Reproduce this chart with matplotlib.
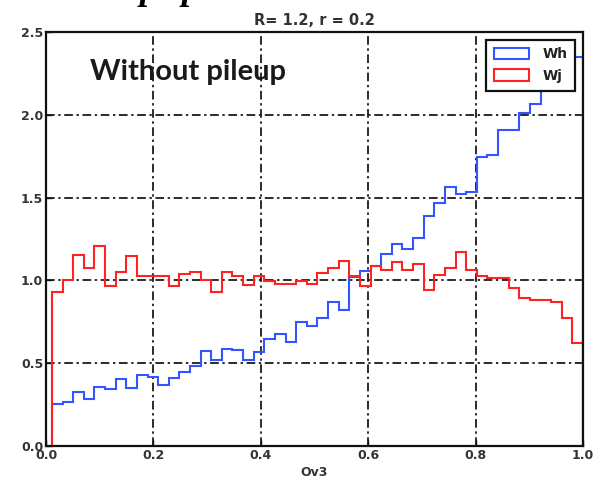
import numpy as np
import matplotlib
matplotlib.use("Agg")
import matplotlib.pyplot as plt

# Histogram binning: 50 bins across the Ov3 range
bin_edges = np.linspace(0.011, 1.0, 51)

# Normalised bin contents
wh_values = [0.254, 0.264, 0.325, 0.286, 0.357, 0.347, 0.407, 0.351, 0.431, 0.417,
             0.371, 0.409, 0.447, 0.481, 0.576, 0.518, 0.588, 0.578, 0.518, 0.566,
             0.648, 0.677, 0.626, 0.747, 0.727, 0.773, 0.867, 0.819, 1.020, 1.058,
             1.089, 1.159, 1.220, 1.191, 1.257, 1.388, 1.470, 1.567, 1.521, 1.533,
             1.748, 1.758, 1.909, 1.909, 2.013, 2.064, 2.180, 2.250, 2.310, 2.350]
wj_values = [0.930, 1.000, 1.155, 1.075, 1.205, 0.964, 1.048, 1.145, 1.024, 1.024,
             1.024, 0.964, 1.040, 1.050, 1.000, 0.928, 1.050, 1.024, 0.974, 1.024,
             0.994, 0.978, 0.978, 0.994, 0.978, 1.045, 1.075, 1.119, 1.024, 0.964,
             1.085, 1.065, 1.109, 1.065, 1.097, 0.940, 1.035, 1.075, 1.171, 1.065,
             1.024, 1.012, 1.012, 0.954, 0.894, 0.882, 0.882, 0.868, 0.771, 0.622]

series_labels = ["Wh", "Wj"]
x_ticks = [0.0, 0.2, 0.4, 0.6, 0.8, 1.0]
y_ticks = [0.0, 0.5, 1.0, 1.5, 2.0, 2.5]

fig = plt.figure(figsize=(5.95, 4.84), dpi=100)
ax = fig.add_axes([46 / 595, 1 - 446 / 484, (583 - 46) / 595, (446 - 32) / 484])

centers = 0.5 * (bin_edges[:-1] + bin_edges[1:])
ax.hist(centers, bins=bin_edges, weights=wh_values, histtype="step",
        color="#3355ff", linewidth=1.5, label=series_labels[0])
ax.hist(centers, bins=bin_edges, weights=wj_values, histtype="step",
        color="#ff2222", linewidth=1.5, label=series_labels[1])

ax.set_xlim(0.0, 1.0)
ax.set_ylim(0.0, 2.5)
ax.set_xticks(x_ticks)
ax.set_yticks(y_ticks)
ax.set_xticklabels([f"{t:.1f}" for t in x_ticks])
ax.set_yticklabels([f"{t:.1f}" for t in y_ticks])

grid_style = (0, (4.8, 2.0, 1.3, 2.0))
ax.grid(True, color="#1a1a1a", linewidth=1.3, linestyle=grid_style)
ax.set_axisbelow(True)

for sp in ax.spines.values():
    sp.set_linewidth(1.6)
    sp.set_color("#111111")

ax.tick_params(direction="in", length=4, width=1, pad=2,
               labelsize=9, labelcolor="#333333", colors="#111111")
for lbl in ax.get_xticklabels() + ax.get_yticklabels():
    lbl.set_fontweight("bold")
ax.set_xlabel("Ov3", fontsize=9, fontweight="bold", color="#333333", labelpad=3)
ax.set_title("R= 1.2, r = 0.2", fontsize=10.5, fontweight="bold",
             color="#333333", pad=5)

ax.text(0.082, 2.26, "Without pileup", fontsize=21, family="Lato",
        weight="bold", color="#1a1a1a", va="center", ha="left")

leg = ax.legend(loc="upper right", prop={"size": 10, "weight": "bold"},
                handlelength=2.5, handleheight=0.9, handletextpad=1.0,
                labelspacing=0.55, fancybox=False, framealpha=1.0,
                borderaxespad=0.55, borderpad=0.55)
leg.get_frame().set_edgecolor("#111111")
leg.get_frame().set_linewidth(1.6)
for t in leg.get_texts():
    t.set_color("#222222")

# heading fragments cut off at the top edge
for xp in (140 / 595, 182 / 595):
    fig.text(xp, 1 + 1.5 / 484, "p", fontsize=26, family="Liberation Serif",
             weight="bold", style="italic", va="baseline", ha="left")

fig.savefig("out.png", dpi=100)
